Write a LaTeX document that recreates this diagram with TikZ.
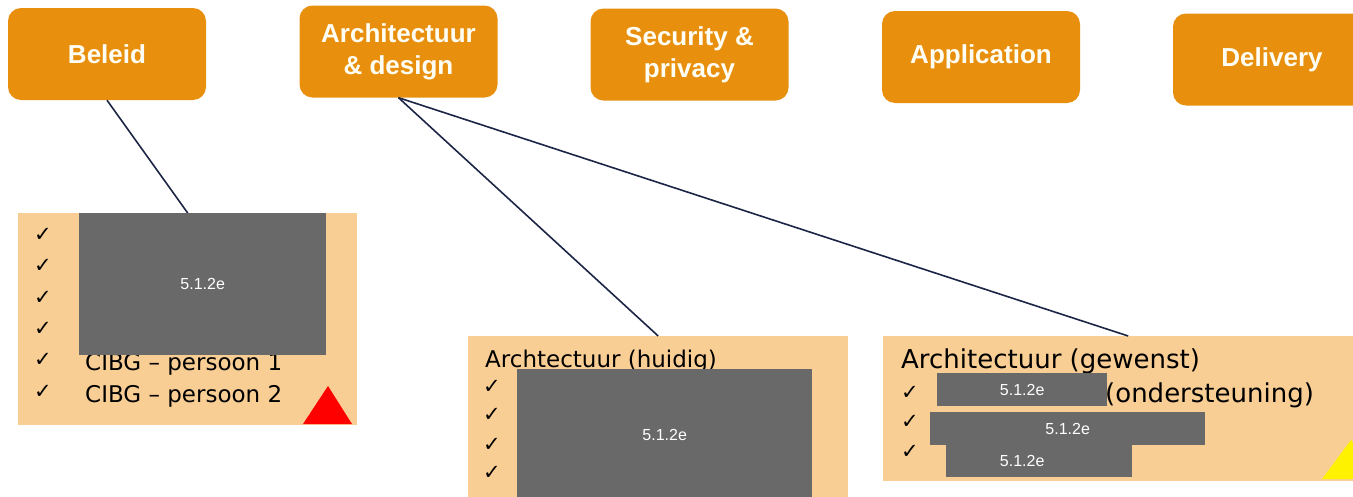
\documentclass[tikz,border=0pt]{standalone}
\usepackage{fontspec}
\setmainfont{DejaVu Sans}
\newfontfamily\kopfont{Liberation Sans}
\usetikzlibrary{positioning}

\definecolor{kop}{HTML}{E8900E}
\definecolor{vak}{HTML}{F9CE94}
\definecolor{zwart}{HTML}{696969}
\definecolor{lijn}{HTML}{1C2545}

\tikzset{
  kopbox/.style={rectangle, rounded corners=13pt, fill=kop, text=white!96!yellow,
    font=\kopfont\bfseries\fontsize{26}{32}\selectfont, align=center,
    minimum width=198pt, minimum height=92pt, inner sep=0pt},
  vakbox/.style={rectangle, fill=vak, inner sep=0pt, anchor=north west},
  redact/.style={rectangle, fill=zwart, text=white, inner sep=0pt, anchor=north west,
    font=\kopfont\fontsize{16}{16}\selectfont},
  vink/.style={font=\bfseries\fontsize{21}{21}\selectfont, inner sep=0pt},
  tekst/.style={font=\fontsize{23}{23}\selectfont, anchor=base west, inner sep=0pt},
  verbind/.style={draw=lijn, line width=1.6pt}
}

\begin{document}
\begin{tikzpicture}[x=1pt, y=-1pt]
\useasboundingbox (0,0) rectangle (1353,496);

% bovenste rij
\foreach \x/\y/\n/\t in {107/54/beleid/Beleid, 398.5/51.5/arch/Architectuur\\\& design,
    689.5/54.5/sec/Security \&\\privacy, 981/57/app/Application, 1272/59.5/deliv/Delivery}
  \node[kopbox] (\n) at (\x,\y) {\t};

% vakken
\node[vakbox, minimum width=339pt, minimum height=212pt] (team) at (18,213) {};
\node[vakbox, minimum width=380pt, minimum height=164pt] (huidig) at (468,336) {};
\node[vakbox, minimum width=490pt, minimum height=145pt] (gewenst) at (883,336) {};

\foreach \s/\t in {beleid/team, arch/huidig, arch/gewenst}
  \draw[verbind] (\s.south) -- (\t.north);

% vak 1
\foreach \y in {235,266,298,329,360,392}
  \node[vink] at (43,\y) {✓};
\node[tekst] (p1) at (85,370) {CIBG – persoon 1};
\node[tekst] (p2) at (85,402) {CIBG – persoon 2};
\node[redact, minimum width=247pt, minimum height=142pt] (r1) at (79,213) {5.1.2e};
\fill[red] (303,424) -- (352,424) -- (328,386) -- cycle;

% vak 2
\node[tekst] (t2) at (485,367) {Archtectuur (huidig)};
\foreach \y in {387,415,445,473}
  \node[vink] at (492,\y) {✓};
\node[redact, minimum width=295pt, minimum height=131pt] (r2) at (517,369) {5.1.2e};

% vak 3
\node[tekst, font=\fontsize{26}{26}\selectfont] (t3) at (901,368) {Architectuur (gewenst)};
\node[tekst, font=\fontsize{26}{26}\selectfont] (t4) at (1105,402) {(ondersteuning)};
\foreach \y in {393,422,452}
  \node[vink] at (910,\y) {✓};
\node[redact, minimum width=170pt, minimum height=33pt] (r3) at (937,373) {5.1.2e};
\node[redact, minimum width=275pt, minimum height=33pt] (r4) at (930,412) {5.1.2e};
\node[redact, minimum width=186pt, minimum height=32pt] (r5) at (946,445) {\hspace*{-34pt}5.1.2e};
\fill[yellow] (1322,479) -- (1380,479) -- (1351,440) -- cycle;
\end{tikzpicture}
\end{document}
